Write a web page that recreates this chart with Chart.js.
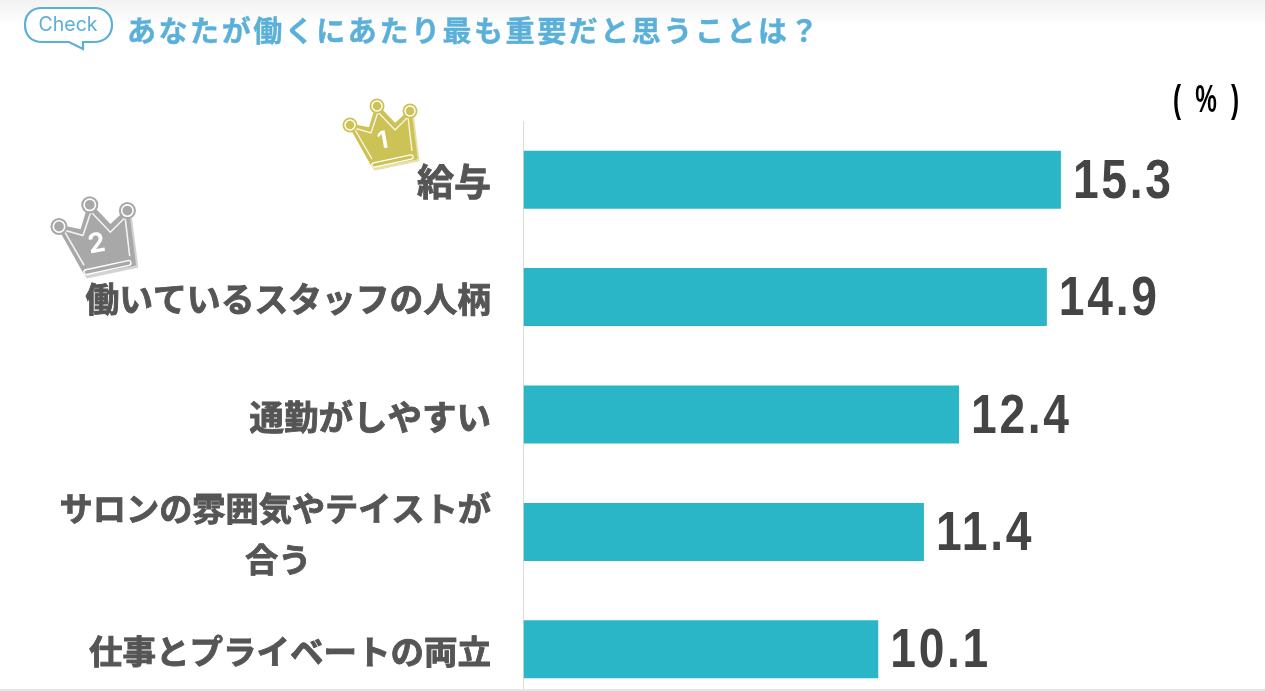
<!DOCTYPE html>
<html lang="ja">
<head>
<meta charset="utf-8">
<title>あなたが働くにあたり最も重要だと思うことは？</title>
<script src="https://cdn.jsdelivr.net/npm/chart.js@4"></script>
<style>
  html, body { margin: 0; height: 691px; overflow: hidden; background: #fff; }
  #top-fade { position: absolute; left: 0; top: 0; width: 1265px; height: 26px; background: linear-gradient(#f2f2f2, #fff); }
  #title {
    position: absolute; left: 127px; top: 9px; margin: 0; white-space: nowrap;
    font: bold 29px "Noto Sans CJK JP"; letter-spacing: 2.55px; color: #5bb0d9; line-height: 40px;
    -webkit-text-stroke: 0.4px #5bb0d9;
  }
  #chart { position: absolute; left: 0; top: 0; }
  #art { position: absolute; left: 0; top: 0; pointer-events: none; }
  #bottom-line { position: absolute; left: 0; top: 689px; width: 1265px; height: 2px; background: #e6e6e6; }
</style>
</head>
<body>
<div id="top-fade"></div>
<canvas id="chart" width="1265" height="720"></canvas>
<h1 id="title">あなたが働くにあたり最も重要だと思うことは？</h1>
<svg id="art" width="1265" height="691">
  <defs>
    <g id="crown">
      <polygon points="352,127 372,131 379,108 397,127 412,113 418,160 375,169" stroke="currentColor" stroke-width="3" stroke-linejoin="round" opacity="0.5"/>
      <polygon points="350,125 370,129 377,106 395,125 410,111 416,158 373,166" stroke="currentColor" stroke-width="3" stroke-linejoin="round"/>
      <polyline points="372,159 354,128 371,133 378,112 395,130 408,117 412,151" fill="none" stroke="#fff" stroke-width="1.4" opacity="0.85"/>
      <circle cx="350" cy="125" r="7.5"/>
      <circle cx="377" cy="106" r="7.5"/>
      <circle cx="410" cy="111" r="7.5"/>
      <circle cx="350" cy="125" r="5" stroke="#fff" stroke-width="1.4"/>
      <circle cx="377" cy="106" r="5" stroke="#fff" stroke-width="1.4"/>
      <circle cx="410" cy="111" r="5" stroke="#fff" stroke-width="1.4"/>
      <line x1="374" y1="165" x2="411" y2="157" stroke="#fff" stroke-width="5.5" stroke-linecap="round"/>
      <line x1="374" y1="165" x2="411" y2="157" stroke="currentColor" stroke-width="3" stroke-linecap="round"/>
    </g>
  </defs>
  <!-- check bubble -->
  <path d="M42 8H94C105 8 112 15 112 25C112 35 105 42 94 42H83L83 49L69 42H42C31 42 25 35 25 25C25 15 31 8 42 8Z" fill="#fff" stroke="#5bb0d9" stroke-width="2.2"/>
  <text x="68" y="31" text-anchor="middle" font-family="Inter" font-size="19.5" fill="#5bb0d9">Check</text>
  <!-- crowns -->
  <use href="#crown" fill="#cdc255" color="#cdc255"/>
  <text x="0" y="0" transform="translate(384,148) rotate(-10)" text-anchor="middle" font-family="Inter" font-weight="700" font-size="24" fill="#fff">1</text>
  <use href="#crown" transform="matrix(1.14 0 0 1.14 -340 84)" fill="#a8a8a8" color="#a8a8a8"/>
  <text x="0" y="0" transform="translate(98,252) rotate(-10)" text-anchor="middle" font-family="Inter" font-weight="700" font-size="27" fill="#fff">2</text>
</svg>
<div id="bottom-line"></div>

<script>
const categories = ['給与', '働いているスタッフの人柄', '通勤がしやすい', ['サロンの雰囲気やテイストが', '合う'], '仕事とプライベートの両立'];
const shares = [15.3, 14.9, 12.4, 11.4, 10.1];
const unitLabel = '(%)';

/* the reference labels are not all the same size */
const labelFontSizes = [37, 33.8, 34.5, 33.2, 33.5];

function drawLabel(ctx, text, x, y) {
    ctx.strokeText(text, x, y);
    ctx.fillText(text, x, y);
}

/* labels drawn here so the wrapped one can stay centred on itself */
const labelPlugin = {
    id: 'labels',
    afterDraw(chart) {
        const ctx = chart.ctx;
        const y = chart.scales.y;
        const x = chart.scales.x;
        ctx.save();
        ctx.textBaseline = 'middle';

        categories.forEach((label, i) => {
            const cy = y.getPixelForValue(i);
            ctx.font = 'bold ' + labelFontSizes[i] + 'px "Noto Sans CJK JP"';
            ctx.fillStyle = '#555';
            ctx.strokeStyle = '#555';
            ctx.lineWidth = 0.9;
            if (Array.isArray(label)) {
                const w = ctx.measureText(label[0]).width;
                ctx.textAlign = 'center';
                drawLabel(ctx, label[0], 491 - w / 2, cy - 24);
                drawLabel(ctx, label[1], 494 - w / 2, cy + 27);
            } else {
                ctx.textAlign = 'right';
                drawLabel(ctx, label, 491, cy + 2);
            }

            /* narrow digits */
            ctx.save();
            ctx.translate(x.getPixelForValue(shares[i]) + 12, cy + 3);
            ctx.scale(0.84, 1);
            ctx.font = 'bold 55px "Liberation Sans"';
            ctx.fillStyle = '#444';
            ctx.textAlign = 'left';
            ctx.letterSpacing = '3.2px';
            ctx.fillText(shares[i].toFixed(1), 0, 0);
            ctx.restore();
        });

        ctx.translate(1173, 102);
        ctx.scale(0.64, 1);
        ctx.font = 'bold 38px "Liberation Sans"';
        ctx.fillStyle = '#000';
        ctx.textAlign = 'left';
        ctx.letterSpacing = '22px';
        ctx.fillText(unitLabel, 0, 0);
        ctx.restore();
    }
};

const ctx = document.getElementById('chart');

new Chart(ctx, {
    type: 'bar',
    data: {
        labels: categories,
        datasets: [{
            label: '%',
            data: shares,
            backgroundColor: '#2bb6c8',
            barPercentage: 0.494,
            categoryPercentage: 1
        }]
    },
    options: {
        indexAxis: 'y',
        responsive: false,
        animation: false,
        devicePixelRatio: 1,
        layout: { padding: { left: 523.5, top: 121, right: 39, bottom: 12 } },
        plugins: { legend: { display: false }, tooltip: { enabled: false } },
        scales: {
            x: { display: false, min: 0, max: 20 },
            y: {
                ticks: { display: false },
                grid: { display: false, drawTicks: false },
                border: { color: '#dcdcdc', width: 1 }
            }
        }
    },
    plugins: [labelPlugin]
});
</script>
</body>
</html>
